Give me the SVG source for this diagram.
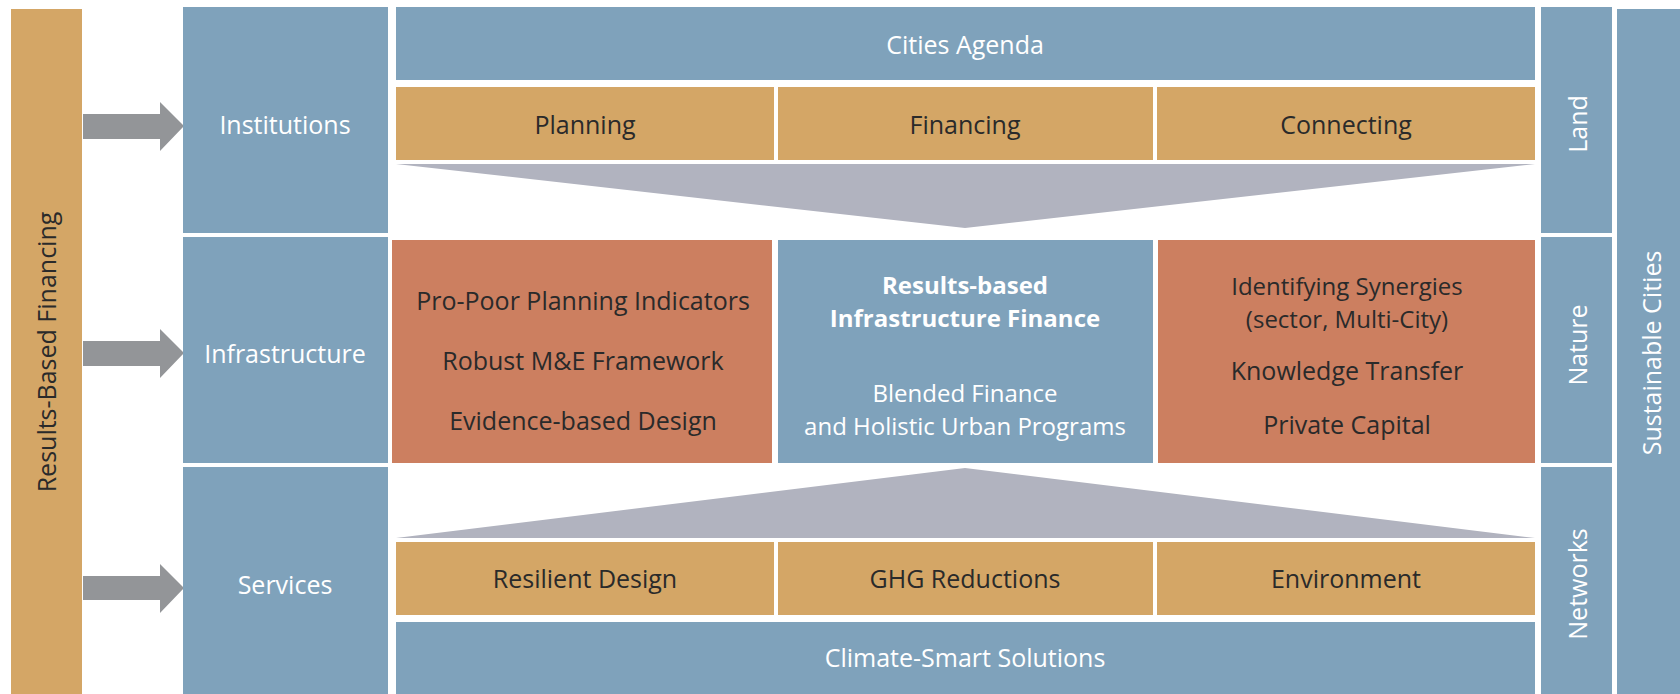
<svg xmlns="http://www.w3.org/2000/svg" width="1680" height="694" viewBox="0 0 1680 694">
<style>
.blue{fill:#7FA2BB}
.gold{fill:#D4A666}
.terra{fill:#CC7F60}
.tri{fill:#B1B3BF}
.arr{fill:#939598}
text{font-family:"Open Sans","Liberation Sans",sans-serif;font-size:25px;text-anchor:middle;dominant-baseline:central}
.w{fill:#FFFFFF}
.d{fill:#2A2A2A}
.b{font-weight:bold}
.s{font-size:24px}
</style>
<rect width="1680" height="694" fill="#FFFFFF"/>
<g id="results-based-financing">
<rect class="gold" x="11" y="9" width="71" height="685"/>
<text class="d" transform="translate(46,352) rotate(-90)">Results-Based Financing</text>
</g>
<g id="connectors">
<path class="arr" d="M83,114 H160 V102 L184,126 L160,151 V139 H83 Z"/>
<path class="arr" d="M83,341 H160 V329 L184,353 L160,378 V366 H83 Z"/>
<path class="arr" d="M83,576 H160 V564 L184,588 L160,613 V600 H83 Z"/>
</g>
<g id="institutions"><rect class="blue" x="183" y="7" width="205" height="226"/><text class="w" x="285" y="124">Institutions</text></g>
<g id="infrastructure"><rect class="blue" x="183" y="237" width="205" height="226"/><text class="w" x="285" y="353">Infrastructure</text></g>
<g id="services"><rect class="blue" x="183" y="467" width="205" height="227"/><text class="w" x="285" y="584">Services</text></g>
<g id="cities-agenda"><rect class="blue" x="396" y="7" width="1139" height="73"/><text class="w" x="965" y="44">Cities Agenda</text></g>
<g id="planning"><rect class="gold" x="396" y="87" width="378" height="73"/><text class="d" x="585" y="124">Planning</text></g>
<g id="financing"><rect class="gold" x="778" y="87" width="375" height="73"/><text class="d" x="965" y="124">Financing</text></g>
<g id="connecting"><rect class="gold" x="1157" y="87" width="378" height="73"/><text class="d" x="1346" y="124">Connecting</text></g>
<g id="top-funnel"><polygon class="tri" points="396,164 1535,164 965,228"/></g>
<g id="pro-poor">
<rect class="terra" x="392" y="240" width="380" height="223"/>
<text class="d" x="583" y="300">Pro-Poor Planning Indicators</text>
<text class="d" x="583" y="360">Robust M&amp;E Framework</text>
<text class="d" x="583" y="420">Evidence-based Design</text>
</g>
<g id="results-based-infrastructure-finance">
<rect class="blue" x="778" y="240" width="375" height="223"/>
<text class="w b s" x="965" y="284">Results-based</text>
<text class="w b s" x="965" y="317">Infrastructure Finance</text>
<text class="w s" x="965" y="392">Blended Finance</text>
<text class="w s" x="965" y="425">and Holistic Urban Programs</text>
</g>
<g id="synergies">
<rect class="terra" x="1158" y="240" width="377" height="223"/>
<text class="d s" x="1347" y="285">Identifying Synergies</text>
<text class="d s" x="1347" y="318">(sector, Multi-City)</text>
<text class="d" x="1347" y="370">Knowledge Transfer</text>
<text class="d" x="1347" y="424">Private Capital</text>
</g>
<g id="bottom-funnel"><polygon class="tri" points="396,538 1535,538 965,468"/></g>
<g id="resilient-design"><rect class="gold" x="396" y="542" width="378" height="73"/><text class="d" x="585" y="578">Resilient Design</text></g>
<g id="ghg-reductions"><rect class="gold" x="778" y="542" width="375" height="73"/><text class="d" x="965" y="578">GHG Reductions</text></g>
<g id="environment"><rect class="gold" x="1157" y="542" width="378" height="73"/><text class="d" x="1346" y="578">Environment</text></g>
<g id="climate-smart"><rect class="blue" x="396" y="622" width="1139" height="72"/><text class="w" x="965" y="657">Climate-Smart Solutions</text></g>
<g id="land"><rect class="blue" x="1541" y="7" width="71" height="226"/><text class="w" transform="translate(1577,124) rotate(-90)">Land</text></g>
<g id="nature"><rect class="blue" x="1541" y="237" width="71" height="226"/><text class="w" transform="translate(1577,345) rotate(-90)">Nature</text></g>
<g id="networks"><rect class="blue" x="1541" y="467" width="71" height="227"/><text class="w" transform="translate(1577,584) rotate(-90)">Networks</text></g>
<g id="sustainable-cities"><rect class="blue" x="1617" y="9" width="63" height="685"/><text class="w" transform="translate(1651,353) rotate(-90)">Sustainable Cities</text></g>
</svg>
